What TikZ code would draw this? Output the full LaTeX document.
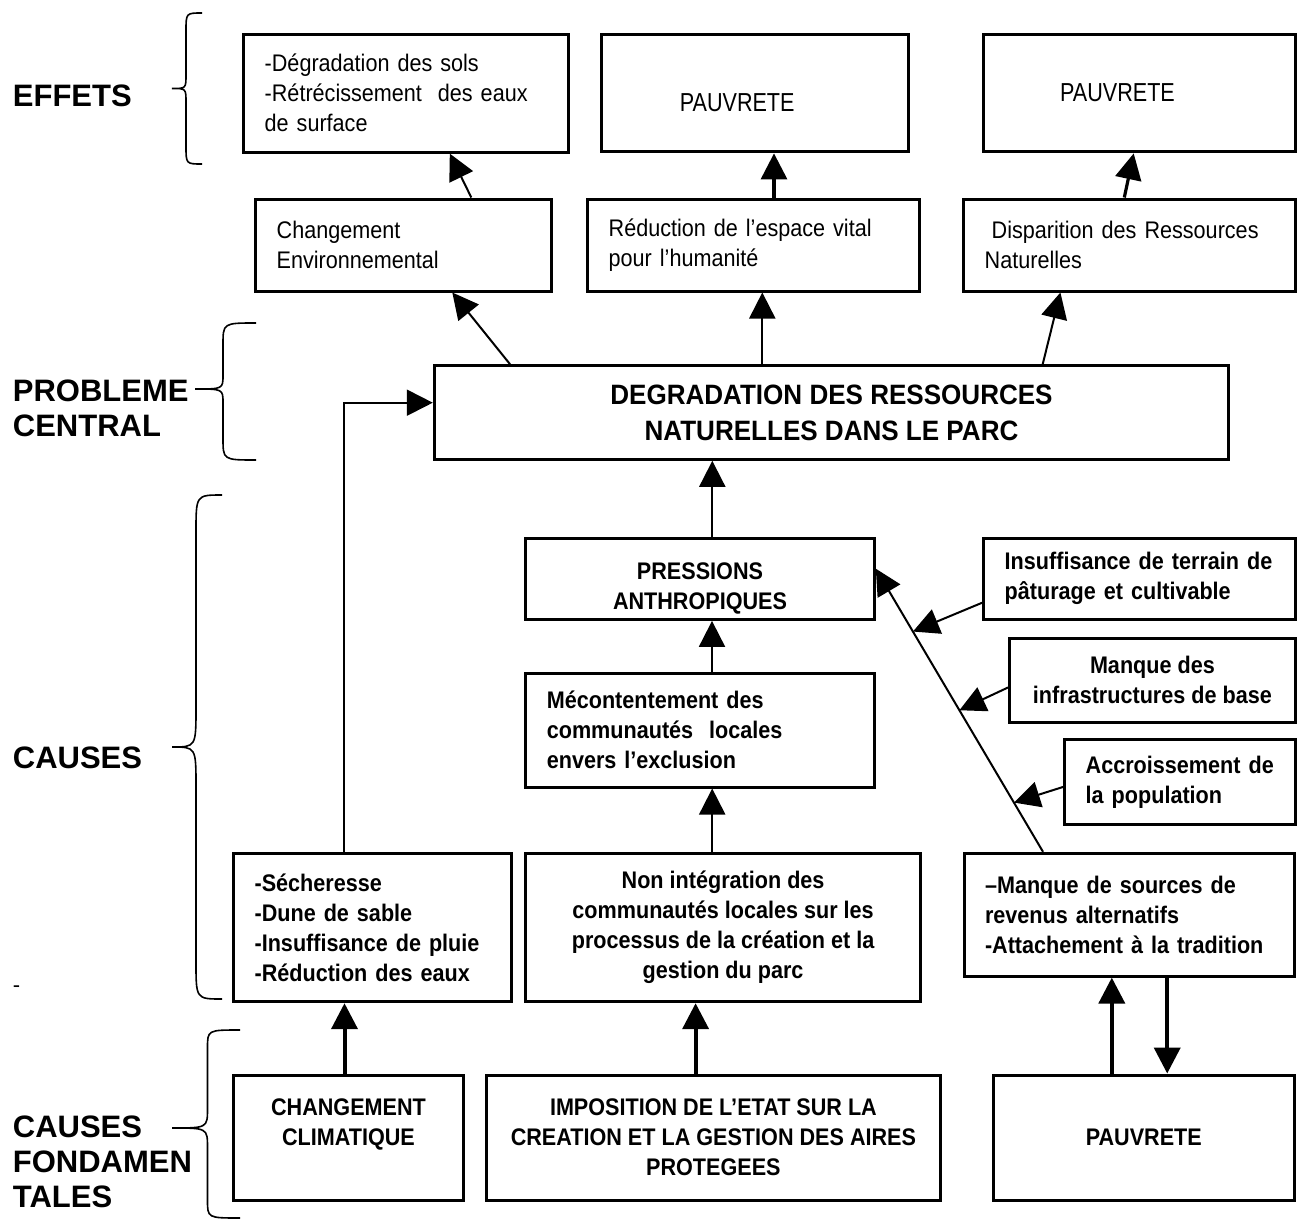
\documentclass[tikz,border=0pt]{standalone}
\usepackage{fontspec}
\setmainfont{Liberation Sans}
\newfontfamily\boxfont[FakeStretch=0.9]{Liberation Sans}
\newfontfamily\largefont[FakeStretch=0.93]{Liberation Sans}
\newfontfamily\pauvfont[FakeStretch=0.83]{Liberation Sans}
\usetikzlibrary{arrows.meta,calc}
\hyphenpenalty=10000
\exhyphenpenalty=10000

\begin{document}
\begin{tikzpicture}[x=0.5pt,y=-0.5pt,>={Triangle[length=13pt,width=13pt]},
  boite/.style={draw,line width=1.5pt,inner xsep=10.5pt,inner ysep=0pt,font=\boxfont\fontsize{12}{15}\selectfont},
  gras/.style={boite,font=\boxfont\fontsize{12}{15}\selectfont\bfseries},
  titre/.style={anchor=west,align=left,inner sep=0pt,font=\fontsize{15.5}{17.5}\selectfont\bfseries},
  lien/.style={->,line width=1pt},
  fleche/.style={->,line width=1.6pt},
  gros/.style={->,line width=2pt},
  accol/.style={line width=0.8pt}]
\useasboundingbox (0,0) rectangle (1301,1220);
% niveaux a gauche
\node[titre] (effets) at (12.5,96) {EFFETS};
\node[titre] (probleme) at (12.5,408) {PROBLEME\\CENTRAL};
\node[titre] (causes) at (12.5,758) {CAUSES};
\node[titre] (fond) at (12.5,1162) {CAUSES\\FONDAMEN\\TALES};
\node[inner sep=0pt,font=\fontsize{11}{13}\selectfont] (tiret) at (16.5,989) {-};
% accolades: bout / verticale / pointe / haut / milieu / bas / crochet / pointe
\foreach \xe/\xv/\xt/\yh/\ym/\yb/\r/\m in {202/186/172/13/88.5/164/18/14,
  256/223/195/323/389/460/22/14, 222/196/172/495/747/999/37/40,
  240/207.5/172/1030/1128/1218/18/20}
  \draw[accol] (\xe,\yh) .. controls (\xv,\yh) .. (\xv,\yh+\r) -- (\xv,\ym-\m)
    .. controls (\xv,\ym) .. (\xt,\ym) .. controls (\xv,\ym) .. (\xv,\ym+\m)
    -- (\xv,\yb-\r) .. controls (\xv,\yb) .. (\xe,\yb);
% effets
\node[boite,minimum width=162.3pt,minimum height=58.9pt,text width=141.3pt,align=left] (dega) at (406,93.2)
  {-Dégradation des sols\\-Rétrécissement\ \ des~eaux\\de surface};
\node[boite,minimum width=153.5pt,minimum height=58.9pt,font=\pauvfont\fontsize{13}{15}\selectfont] (pauv2) at (755.2,93)
  {\raisebox{-5pt}[\height][0pt]{PAUVRETE}\hspace*{18pt}};
\node[boite,minimum width=155.8pt,minimum height=58.9pt,font=\pauvfont\fontsize{13}{15}\selectfont] (pauv3) at (1139.5,93)
  {PAUVRETE\hspace*{22pt}};
\node[boite,minimum width=147.8pt,minimum height=46pt,text width=126.8pt,align=left] (chgenv) at (403.5,245)
  {Changement\\Environnemental};
\node[boite,minimum width=166pt,minimum height=46pt,text width=145pt,align=left] (red) at (753.7,245)
  {Réduction de l’espace~vital\\pour l’humanité};
\node[boite,minimum width=165.7pt,minimum height=46pt,text width=144.7pt,align=left] (disp) at (1129.4,245)
  {\hspace*{3.5pt}Disparition des~Ressources\\Naturelles};
% probleme central
\node[boite,minimum width=397.2pt,minimum height=46.8pt,align=center,font=\largefont\bfseries\fontsize{14}{18}\selectfont] (deg) at (831.5,412.5)
  {DEGRADATION DES RESSOURCES\\NATURELLES DANS LE PARC};
% causes
\node[gras,minimum width=174.3pt,minimum height=40.7pt,align=center] (press) at (700,578.7)
  {\raisebox{-3.5pt}[\height][0pt]{PRESSIONS}\\\raisebox{-3.5pt}[\height][0pt]{ANTHROPIQUES}};
\node[gras,minimum width=174.2pt,minimum height=57pt,text width=153.2pt,align=left] (mec) at (700,730)
  {Mécontentement des\\communautés\ \ locales\\envers l’exclusion};
\node[gras,minimum width=155.8pt,minimum height=40.7pt,text width=134.8pt,align=left] (insuf) at (1139.5,578.7)
  {Insuffisance~de~terrain~de\\pâturage et cultivable};
\node[gras,minimum width=142.7pt,minimum height=41.7pt,align=center] (manq) at (1152.4,680.4)
  {Manque des\\infrastructures de base};
\node[gras,minimum width=115.2pt,minimum height=42.2pt,text width=94.2pt,align=left] (accr) at (1179.9,781.9)
  {Accroissement~de\\la population};
\node[gras,minimum width=139pt,minimum height=74.2pt,text width=118pt,align=left] (sech) at (372.6,927.5)
  {-Sécheresse\\-Dune de sable\\-Insuffisance~de~pluie\\-Réduction~des~eaux};
\node[gras,minimum width=197.4pt,minimum height=74.2pt,align=center] (nonint) at (723.1,927.5)
  {Non intégration des\\communautés locales sur les\\processus de la création et la\\gestion du parc};
\node[gras,minimum width=165pt,minimum height=61.4pt,text width=144pt,align=left] (msrc) at (1129,914.7)
  {–Manque de sources de\\revenus alternatifs\\-Attachement~à~la~tradition};
% causes fondamentales
\node[gras,minimum width=115pt,minimum height=62.5pt,align=center] (chgclim) at (348.5,1137.5)
  {CHANGEMENT\\CLIMATIQUE\\\mbox{}};
\node[gras,minimum width=227.1pt,minimum height=62.5pt,align=center] (impos) at (713.4,1137.5)
  {IMPOSITION DE L’ETAT SUR LA\\CREATION ET LA GESTION DES AIRES\\PROTEGEES};
\node[gras,minimum width=150.2pt,minimum height=62.5pt] (pauvb) at (1143.8,1137.5) {PAUVRETE};
% liens
\draw[lien] ([xshift=33.9pt]chgenv.north) -- ([xshift=21.9pt]dega.south);
\coordinate (a1) at ([xshift=10.15pt]red.north);
\draw[fleche] (a1) -- (a1 |- pauv2.south);
\draw[fleche] ([xshift=-2.55pt]disp.north) -- ([xshift=-2.9pt]pauv3.south);
\draw[lien] ([xshift=-160.75pt]deg.north) -- ([xshift=24.4pt]chgenv.south);
\coordinate (a2) at ([xshift=-34.6pt]deg.north);
\draw[lien] (a2) -- (a2 |- red.south);
\draw[lien] ([xshift=105.6pt]deg.north) -- ([xshift=-34.5pt]disp.south);
\coordinate (a3) at ([xshift=6.15pt]press.north);
\draw[lien] (a3) -- (a3 |- deg.south);
\coordinate (a4) at ([xshift=6pt]mec.north);
\draw[lien] (a4) -- (a4 |- press.south);
\coordinate (a5) at ([xshift=-5.45pt]nonint.north);
\draw[lien] (a5) -- (a5 |- mec.south);
\coordinate (a6) at ([xshift=-8.9pt]impos.north);
\draw[gros] (a6) -- (a6 |- nonint.south);
\coordinate (a7) at ([xshift=-2pt]chgclim.north);
\draw[gros] (a7) -- (a7 |- sech.south);
\coordinate (a8) at ([xshift=-16pt]pauvb.north);
\draw[gros] (a8) -- (a8 |- msrc.south);
\coordinate (a9) at ([xshift=19.1pt]msrc.south);
\draw[gros] (a9) -- (a9 |- pauvb.north);
\draw[lien] ([xshift=-14.1pt]sech.north) |- ([yshift=4.9pt]deg.west);
% longue ligne vers les pressions
\coordinate (m1) at ([xshift=-43pt]msrc.north);
\coordinate (p1) at ([yshift=5pt]press.east);
\coordinate (t1) at ($(m1)!0.778!(p1)$);
\coordinate (t2) at ($(m1)!0.5!(p1)$);
\coordinate (t3) at ($(m1)!0.174!(p1)$);
\draw[lien] (m1) -- (p1);
\draw[lien] ([yshift=-12pt]insuf.west) -- (t1);
\draw[lien] ([yshift=-3.5pt]manq.west) -- (t2);
\draw[lien] ([yshift=-2.5pt]accr.west) -- (t3);
\end{tikzpicture}
\end{document}
